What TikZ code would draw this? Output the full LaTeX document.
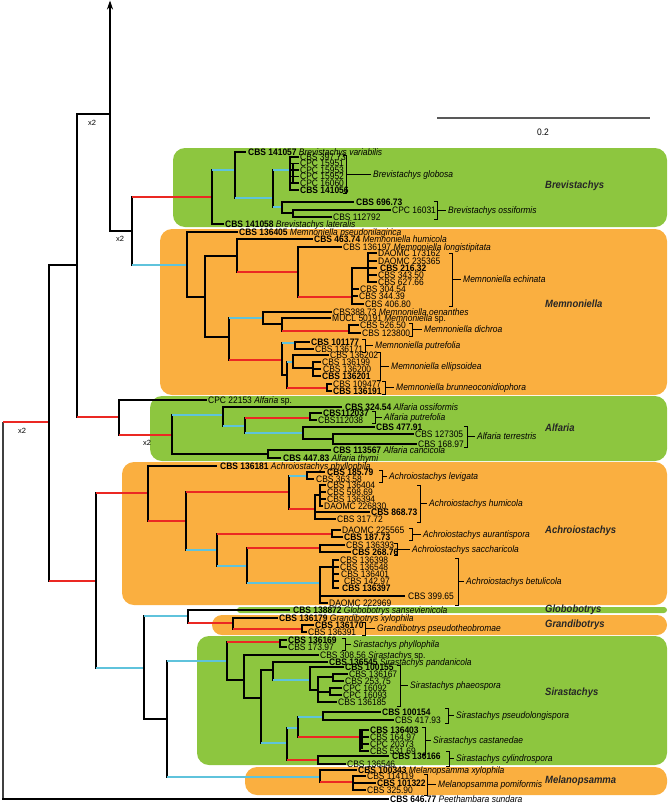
\documentclass[tikz,border=0pt]{standalone}
\usepackage{fontspec}
\setmainfont{Liberation Sans}
\newfontfamily\nar{Liberation Sans}[FakeStretch=0.9]
\usetikzlibrary{arrows.meta}
\definecolor{gbox}{RGB}{141,198,63}
\definecolor{obox}{RGB}{250,175,64}
\definecolor{rdc}{RGB}{235,40,35}
\definecolor{blc}{RGB}{95,195,220}
\tikzset{
 br/.style={line width=1.1pt, line cap=rect},
 tk/.style={line width=2.2pt, line cap=rect},
 rb/.style={line width=2.2pt, draw=rdc},
 bb/.style={line width=2.2pt, draw=blc},
 bk/.style={line width=0.9pt},
 lf/.style={anchor=west, inner sep=0pt, text height=6.6pt, text depth=0pt, font=\nar\fontsize{9.4}{10}\selectfont},
 sp/.style={lf, font=\nar\fontsize{9.4}{10}\selectfont\itshape},
 gl/.style={anchor=west, inner sep=0pt, font=\nar\fontsize{10.5}{11}\selectfont\bfseries\itshape, text=black!85},
 xl/.style={inner sep=0pt, font=\fontsize{7.5}{8}\selectfont},
}
\newcounter{lfc}
\newcommand\Vt[3]{\draw[br] (#1,#2) -- (#1,#3);}
\newcommand\Hs[4]{\draw[#1] (#2,#4) -- (#3,#4);}
\newcommand\leaf[3]{\stepcounter{lfc}\node[lf] (lf\arabic{lfc}) at (#1,#2) {#3};}
\newcommand\brk[5]{%
 \draw[bk] ({#1-3},#2) -- (#1,#2) -- (#1,#3) -- ({#1-3},#3);
 \draw[bk] (#1,{(#2+#3)/2}) -- ({#4-2},{(#2+#3)/2});
 \stepcounter{lfc}\node[sp] (lf\arabic{lfc}) at (#4,{(#2+#3)/2}) {#5};}
\begin{document}
\begin{tikzpicture}[x=1pt,y=-1pt]
\useasboundingbox (0,0) rectangle (668,803);
% ---------- boxes
\fill[gbox, rounded corners=12pt] (173,148) rectangle (667,227);
\fill[obox, rounded corners=12pt] (160,229) rectangle (667,395);
\fill[gbox, rounded corners=12pt] (150,396) rectangle (667,461);
\fill[obox, rounded corners=12pt] (122,462) rectangle (667,605);
\fill[gbox, rounded corners=3pt] (237,607) rectangle (667,613);
\fill[obox, rounded corners=10pt] (212,615) rectangle (667,635);
\fill[gbox, rounded corners=12pt] (197,636) rectangle (667,765);
\fill[obox, rounded corners=12pt] (245,767) rectangle (667,795);
\node[gl] (g1) at (545,186) {Brevistachys};
\node[gl] (g2) at (545,304) {Memnoniella};
\node[gl] (g3) at (545,428) {Alfaria};
\node[gl] (g4) at (545,531) {Achroiostachys};
\node[gl] (g5) at (545,610) {Globobotrys};
\node[gl] (g6) at (545,625) {Grandibotrys};
\node[gl] (g7) at (545,693) {Sirastachys};
\node[gl] (g8) at (545,781) {Melanopsamma};
% ---------- scale bar
\draw[line width=1.4pt, black!65] (437,118) -- (650,118);
\node[lf, anchor=center] (sc) at (543,132) {0.2};
% ---------- backbone
\draw[line width=1.1pt, black!75] (3,422) -- (3,799);
\Hs{rb}{3}{49}{422}
\node[xl] (x2a) at (22,431) {x2};
\Vt{49}{265}{581}
\Hs{br}{49}{77}{265}
\Hs{rb}{49}{96}{581}
\Vt{77}{114}{417}
\Hs{tk}{77}{110}{114}
\node[xl] (x2b) at (92,123) {x2};
\draw[br,-{Stealth[length=9pt,width=6pt]}] (110,231) -- (110,0.5);
\Hs{br}{110}{132}{231}
\node[xl] (x2c) at (120,239) {x2};
\Hs{rb}{77}{119}{417}
\Vt{96}{493}{668}
\Hs{rb}{96}{148}{493}
\Hs{bb}{96}{144}{668}
% ---------- Brevistachys
\Vt{132}{197}{265}
\Hs{rb}{132}{212}{197}
\Hs{bb}{132}{187}{265}
\Vt{212}{170}{224}
\Hs{bb}{212}{235}{170}
\Hs{br}{212}{223}{224}
\Vt{235}{152}{198}
\Hs{br}{235}{245}{152}
\Hs{bb}{235}{273}{198}
\Vt{273}{170}{207}
\Hs{bb}{273}{290}{170}
\Hs{bb}{273}{282}{207}
\Vt{290}{157}{190}
\draw[tk] (293,165) -- (293,181);
\foreach \yy in {157,163.5,170,176.5,183,190} {\Hs{br}{290}{298}{\yy}}
\leaf{248}{152}{\textbf{CBS 141057} \textit{Brevistachys variabilis}}
\leaf{300}{157}{CBS 397.73}
\leaf{300}{163.5}{CPC 15951}
\leaf{300}{170}{CPC 15953}
\leaf{300}{176.5}{CPC 15952}
\leaf{300}{183}{CPC 16060}
\leaf{300}{190}{\textbf{CBS 141056}}
\brk{346}{155}{193}{373}{Brevistachys globosa}
\draw[tk] (282,202) -- (282,213);
\Hs{tk}{282}{353}{202}
\leaf{356}{202}{\textbf{CBS 696.73}}
\Hs{br}{282}{293}{213}
\Vt{293}{210}{217}
\Hs{br}{293}{390}{210}
\leaf{392}{210}{CPC 16031}
\Hs{br}{293}{331}{217}
\leaf{333}{217}{CBS 112792}
\brk{437}{201}{219}{448}{Brevistachys ossiformis}
\leaf{225}{224}{\textbf{CBS 141058} \textit{Brevistachys lateralis}}
% ---------- Memnoniella
\Vt{187}{232}{297}
\Hs{br}{187}{237}{232}
\leaf{239}{232}{\textbf{CBS 136405} \textit{Memnoniella pseudonilagirica}}
\Hs{tk}{187}{205}{297}
\draw[tk] (205,256) -- (205,337);
\Hs{tk}{205}{237}{256}
\Hs{tk}{205}{229}{337}
\Vt{237}{239}{272}
\Hs{br}{237}{312}{239}
\leaf{314}{239}{\textbf{CBS 463.74} \textit{Memnoniella humicola}}
\Hs{rb}{237}{298}{272}
\Vt{298}{247}{297}
\Hs{br}{298}{341}{247}
\leaf{343}{247}{CBS 136197 \textit{Memnoniella longistipitata}}
\Hs{rb}{298}{352}{297}
\Vt{352}{268}{304}
\Hs{tk}{352}{368}{268}
\Vt{368}{253}{282}
\foreach \yy in {253,261,268,275,282} {\Hs{br}{368}{376}{\yy}}
\leaf{378}{253}{DAOMC 173162}
\leaf{378}{261}{DAOMC 235365}
\leaf{380}{268}{\textbf{CBS 216.32}}
\leaf{378}{275}{CBS 343.50}
\leaf{378}{282}{CBS 627.66}
\Hs{br}{352}{358}{289}
\leaf{360}{289}{CBS 304.54}
\Hs{br}{352}{357}{296}
\leaf{359}{296}{CBS 344.39}
\Hs{br}{352}{363}{304}
\leaf{365}{304}{CBS 406.80}
\brk{452}{253}{306}{463}{Memnoniella echinata}
\Vt{229}{318}{360}
\Hs{bb}{229}{263}{318}
\Vt{263}{312}{324}
\Hs{br}{263}{331}{312}
\leaf{333}{312}{CBS388.73 \textit{Memnoniella oenanthes}}
\Hs{br}{263}{282}{324}
\Vt{282}{318}{331}
\Hs{br}{282}{330}{318}
\leaf{332}{318}{MUCL 50191 \textit{Memnoniella} sp.}
\Hs{rb}{282}{349}{331}
\Vt{349}{325}{333}
\Hs{br}{349}{358}{325}
\leaf{360}{325}{CBS 526.50}
\Hs{br}{349}{360}{333}
\leaf{362}{333}{CBS 123800}
\brk{412}{323}{336}{424}{Memnoniella dichroa}
\Hs{rb}{229}{282}{360}
\Vt{282}{343}{375}
\Hs{bb}{282}{295}{343}
\Vt{295}{342}{349}
\Hs{br}{295}{309}{342}
\leaf{311}{342}{\textbf{CBS 101177}}
\Hs{br}{295}{313}{349}
\leaf{315}{349}{CBS 136171}
\brk{365}{339}{352}{375}{Memnoniella putrefolia}
\Hs{br}{282}{287}{375}
\Vt{287}{362}{388}
\Hs{bb}{287}{293}{362}
\Vt{293}{355}{368}
\Hs{br}{293}{328}{355}
\leaf{330}{355}{CBS 136202}
\Hs{tk}{293}{313}{368}
\Vt{313}{362}{376}
\foreach \yy in {362,369,376} {\Hs{br}{313}{320}{\yy}}
\leaf{322}{362}{CBS 136199}
\leaf{323}{369}{CBS 136200}
\leaf{322}{376}{\textbf{CBS 136201}}
\brk{380}{352}{380}{391}{Memnoniella ellipsoidea}
\Hs{rb}{287}{327}{388}
\Vt{327}{384}{391}
\foreach \yy in {384,391} {\Hs{br}{327}{331}{\yy}}
\leaf{333}{384}{CBS 109477}
\leaf{333}{391}{\textbf{CBS 136191}}
\brk{385}{381}{394}{396}{Memnoniella brunneoconidiophora}
% ---------- Alfaria
\Vt{119}{400}{435}
\Hs{br}{119}{206}{400}
\leaf{208}{400}{CPC 22153 \textit{Alfaria} sp.}
\Hs{rb}{119}{172}{435}
\node[xl] (x2d) at (147,443) {x2};
\Vt{172}{415}{454}
\Hs{bb}{172}{223}{415}
\Vt{223}{407}{426}
\Hs{br}{223}{341}{407}
\leaf{345}{407}{\textbf{CBS 324.54} \textit{Alfaria ossiformis}}
\Hs{bb}{223}{245}{426}
\Vt{245}{418}{433}
\Hs{rb}{245}{310}{418}
\Vt{310}{413}{420}
\Hs{br}{310}{321}{413}
\leaf{323}{413}{\textbf{CBS112037}}
\Hs{br}{310}{316}{420}
\leaf{318}{420}{CBS112038}
\brk{375}{411}{423}{384}{Alfaria putrefolia}
\Hs{bb}{245}{303}{433}
\Vt{303}{427}{439}
\Hs{br}{303}{374}{427}
\leaf{376}{427}{\textbf{CBS 477.91}}
\Hs{tk}{303}{333}{439}
\Vt{333}{434}{444}
\Hs{br}{333}{413}{434}
\leaf{415}{434}{CBS 127305}
\Hs{br}{333}{416}{444}
\leaf{418}{444}{CBS 168.97}
\brk{467}{426}{447}{477}{Alfaria terrestris}
\Hs{br}{172}{268}{454}
\Vt{268}{450}{458}
\Hs{br}{268}{330}{450}
\leaf{333}{450}{\textbf{CBS 113567} \textit{Alfaria cancicola}}
\Hs{br}{268}{280}{458}
\leaf{283}{458}{\textbf{CBS 447.83} \textit{Alfaria thymi}}
% ---------- Achroiostachys
\Vt{148}{466}{521}
\Hs{br}{148}{216}{466}
\leaf{220}{466}{\textbf{CBS 136181} \textit{Achroiostachys phyllophila}}
\Hs{rb}{148}{186}{521}
\Vt{186}{492}{550}
\Hs{rb}{186}{289}{492}
\Vt{289}{476}{509}
\Hs{bb}{289}{307}{476}
\Vt{307}{472}{479}
\Hs{br}{307}{324}{472}
\leaf{327}{472}{\textbf{CBS 185.79}}
\Hs{br}{307}{313}{479}
\leaf{316}{479}{CBS 363.58}
\brk{382}{470}{482}{389}{Achroiostachys levigata}
\Hs{rb}{289}{315}{509}
\Vt{315}{495}{519}
\Hs{br}{315}{320}{495}
\Vt{320}{485}{506}
\foreach \yy in {485,492,499} {\Hs{br}{320}{325}{\yy}}
\Hs{br}{320}{322}{506}
\leaf{327}{485}{CBS 136404}
\leaf{327}{492}{CBS 598.69}
\leaf{327}{499}{CBS 136394}
\leaf{324}{506}{DAOMC 226830}
\Hs{tk}{315}{369}{512}
\leaf{371}{512}{\textbf{CBS 868.73}}
\Hs{br}{315}{335}{519}
\leaf{337}{519}{CBS 317.72}
\brk{420}{485}{522}{429}{Achroiostachys humicola}
\Hs{bb}{186}{217}{550}
\Vt{217}{534}{566}
\Hs{rb}{217}{332}{534}
\Vt{332}{530}{537}
\Hs{br}{332}{340}{530}
\leaf{342}{530}{DAOMC 225565}
\Hs{br}{332}{342}{537}
\leaf{344}{537}{\textbf{CBS 187.73}}
\brk{412}{528}{540}{423}{Achroiostachys aurantispora}
\Hs{bb}{217}{247}{566}
\Vt{247}{548}{583}
\Hs{rb}{247}{320}{548}
\Vt{320}{545}{552}
\Hs{br}{320}{344}{545}
\leaf{346}{545}{CBS 136393}
\Hs{br}{320}{350}{552}
\leaf{352}{552}{\textbf{CBS 268.76}}
\brk{397}{543}{555}{412}{Achroiostachys saccharicola}
\Hs{bb}{247}{320}{583}
\Vt{320}{567}{603}
\Hs{tk}{320}{333}{567}
\Vt{333}{560}{588}
\foreach \yy in {560,567,574,581,588} {\Hs{br}{333}{338}{\yy}}
\leaf{340}{560}{CBS 136398}
\leaf{340}{567}{CBS 136548}
\leaf{341}{574}{CBS 136401}
\leaf{344}{581}{CBS 142.97}
\leaf{342}{588}{\textbf{CBS 136397}}
\Hs{br}{320}{404}{596}
\leaf{408}{596}{CBS 399.65}
\Hs{br}{320}{327}{603}
\leaf{329}{603}{DAOMC 222969}
\brk{458}{558}{605}{466}{Achroiostachys betulicola}
% ---------- Globobotrys / Grandibotrys
\Vt{144}{616}{719}
\Hs{bb}{144}{188}{616}
\Vt{188}{610}{623}
\Hs{br}{188}{289}{610}
\leaf{293}{610}{\textbf{CBS 138872} \textit{Globobotrys sansevienicola}}
\Hs{rb}{188}{233}{623}
\Vt{233}{618}{629}
\Hs{br}{233}{277}{618}
\leaf{279}{618}{\textbf{CBS 136179} \textit{Grandibotrys xylophila}}
\Hs{rb}{233}{302}{629}
\Vt{302}{625}{632}
\Hs{br}{302}{313}{625}
\leaf{315}{625}{\textbf{CBS 136170}}
\Hs{br}{302}{306}{632}
\leaf{308}{632}{CBS 136391}
\brk{365}{622}{635}{377}{Grandibotrys pseudotheobromae}
% ---------- Sirastachys
\Hs{tk}{144}{167}{719}
\Vt{167}{661}{777}
\Hs{bb}{167}{227}{661}
\Vt{227}{642}{680}
\Hs{rb}{227}{280}{642}
\Vt{280}{640}{647}
\Hs{br}{280}{286}{640}
\Hs{br}{280}{286}{647}
\leaf{288}{640}{\textbf{CBS 136169}}
\leaf{288}{647}{CBS 173.97}
\brk{345}{638}{650}{353}{Sirastachys phyllophila}
\Hs{tk}{227}{244}{680}
\Vt{244}{655}{698}
\Hs{br}{244}{318}{655}
\leaf{320}{655}{CBS 308.56 \textit{Sirastachys} sp.}
\Hs{tk}{244}{261}{698}
\Vt{261}{670}{743}
\Hs{tk}{261}{273}{670}
\Vt{273}{662}{680}
\Hs{br}{273}{327}{662}
\leaf{329}{662}{\textbf{CBS 136545} \textit{Sirastachys pandanicola}}
\Hs{bb}{273}{310}{680}
\Vt{310}{667}{690}
\Hs{br}{310}{343}{667}
\leaf{345}{667}{\textbf{CBS 100155}}
\Hs{br}{310}{318}{690}
\Vt{318}{677}{702}
\Hs{br}{318}{333}{677}
\Vt{333}{674}{681}
\Hs{br}{333}{347}{674}
\leaf{349}{674}{CBS 136167}
\Hs{br}{333}{343}{681}
\leaf{345}{681}{CBS 253.75}
\Hs{tk}{318}{330}{692}
\draw[tk] (330,688) -- (330,695);
\Hs{br}{330}{341}{688}
\Hs{br}{330}{341}{695}
\leaf{343}{688}{CPC 16092}
\leaf{343}{695}{CPC 16093}
\Hs{br}{318}{336}{702}
\leaf{338}{702}{CBS 136185}
\brk{400}{665}{706}{410}{Sirastachys phaeospora}
\Hs{bb}{261}{287}{743}
\Vt{287}{728}{760}
\Hs{bb}{287}{298}{728}
\Vt{298}{717}{737}
\Hs{bb}{298}{323}{717}
\Vt{323}{712}{720}
\Hs{br}{323}{380}{712}
\leaf{382}{712}{\textbf{CBS 100154}}
\Hs{br}{323}{393}{720}
\leaf{395}{720}{CBS 417.93}
\brk{448}{708}{723}{456}{Sirastachys pseudolongispora}
\Hs{rb}{298}{360}{737}
\Vt{360}{730}{751}
\draw[tk] (362,732) -- (362,748);
\foreach \yy in {730,737,744,751} {\Hs{br}{360}{368}{\yy}}
\leaf{370}{730}{\textbf{CBS 136403}}
\leaf{370}{737}{CBS 164.97}
\leaf{370}{744}{CPC 20373}
\leaf{370}{751}{CBS 531.69}
\brk{425}{727}{754}{433}{Sirastachys castanedae}
\Hs{rb}{287}{318}{760}
\Vt{318}{756}{764}
\Hs{br}{318}{388}{756}
\leaf{392}{756}{\textbf{CBS 136166}}
\Hs{br}{318}{345}{764}
\leaf{347}{764}{CBS 136546}
\brk{449}{751}{766}{456}{Sirastachys cylindrospora}
% ---------- Melanopsamma
\Hs{bb}{167}{320}{777}
\Vt{320}{770}{782}
\Hs{br}{320}{356}{770}
\leaf{358}{770}{\textbf{CBS 100343} \textit{Melanopsamma xylophila}}
\Hs{rb}{320}{353}{782}
\Vt{353}{776}{790}
\Hs{br}{353}{365}{776}
\Hs{br}{353}{375}{783}
\Hs{br}{353}{365}{790}
\leaf{367}{776}{CBS 114119}
\leaf{377}{783}{\textbf{CBS 101322}}
\leaf{367}{790}{CBS 325.90}
\brk{427}{774}{795}{438}{Melanopsamma pomiformis}
% ---------- outgroup
\Hs{br}{3}{388}{799}
\leaf{390}{799}{\textbf{CBS 646.77} \textit{Peethambara sundara}}
\end{tikzpicture}
\end{document}
